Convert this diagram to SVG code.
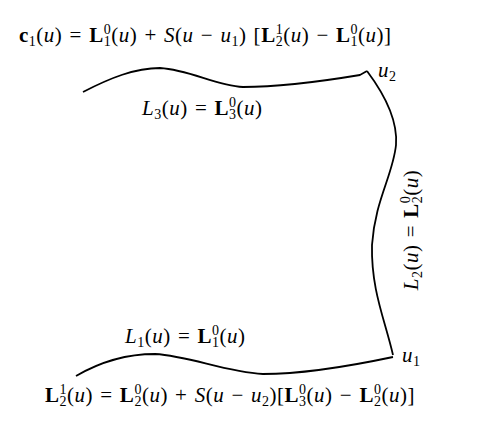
<svg xmlns="http://www.w3.org/2000/svg" width="500" height="433" viewBox="0 0 500 433">
<style>
text{font-family:"Liberation Serif","Times New Roman",serif;font-size:21px;letter-spacing:0.5px;word-spacing:1.5px;fill:#000}
.i{font-style:italic}
.b{font-weight:bold}
.s{font-size:14px}
.c{fill:none;stroke:#000;stroke-width:1.8;stroke-linejoin:miter}
</style>
<rect width="500" height="433" fill="#fff"/>
<g id="curves">
<path class="c" d="M83,92 C110,78 135,68 160,68 C190,70 215,85 243,87 C285,87 330,80 360,75 L367,71"/>
<path class="c" d="M367,71 C385,95 398,120 396,145 C393,175 375,200 372,245 C371,290 385,320 393,355"/>
<path class="c" d="M76,376 C100,362 125,354 155,354 C190,356 225,372 263,374 C310,374 360,364 393,357"/>
</g>
<g id="top-formula">
<text x="19" y="42"><tspan class="b">c</tspan><tspan class="s" dy="4">1</tspan><tspan dy="-4">(</tspan><tspan class="i">u</tspan>) = <tspan class="b">L</tspan><tspan class="s" dy="4">1</tspan><tspan class="s" dx="-7.5" dy="-12">0</tspan><tspan dy="8">(</tspan><tspan class="i">u</tspan>) + <tspan class="i">S</tspan>(<tspan class="i">u</tspan> − <tspan class="i">u</tspan><tspan class="s" dy="4">1</tspan><tspan dy="-4">) [</tspan><tspan class="b">L</tspan><tspan class="s" dy="4">2</tspan><tspan class="s" dx="-7.5" dy="-12">1</tspan><tspan dy="8">(</tspan><tspan class="i">u</tspan>) − <tspan class="b">L</tspan><tspan class="s" dy="4">1</tspan><tspan class="s" dx="-7.5" dy="-12">0</tspan><tspan dy="8">(</tspan><tspan class="i">u</tspan>)]</text>
</g>
<g id="label-L3">
<text x="142" y="115"><tspan class="i">L</tspan><tspan class="s" dy="4">3</tspan><tspan dy="-4">(</tspan><tspan class="i">u</tspan>) = <tspan class="b">L</tspan><tspan class="s" dy="4">3</tspan><tspan class="s" dx="-7.5" dy="-12">0</tspan><tspan dy="8">(</tspan><tspan class="i">u</tspan>)</text>
</g>
<g id="label-u2">
<text x="378" y="77"><tspan class="i">u</tspan><tspan class="s" dy="4">2</tspan></text>
</g>
<g id="label-L2">
<text transform="translate(418,230) rotate(-90)" text-anchor="middle"><tspan class="i">L</tspan><tspan class="s" dy="4">2</tspan><tspan dy="-4">(</tspan><tspan class="i">u</tspan>) = <tspan class="b">L</tspan><tspan class="s" dy="4">2</tspan><tspan class="s" dx="-7.5" dy="-12">0</tspan><tspan dy="8">(</tspan><tspan class="i">u</tspan>)</text>
</g>
<g id="label-L1">
<text x="125" y="343"><tspan class="i">L</tspan><tspan class="s" dy="4">1</tspan><tspan dy="-4">(</tspan><tspan class="i">u</tspan>) = <tspan class="b">L</tspan><tspan class="s" dy="4">1</tspan><tspan class="s" dx="-7.5" dy="-12">0</tspan><tspan dy="8">(</tspan><tspan class="i">u</tspan>)</text>
</g>
<g id="label-u1">
<text x="402" y="362"><tspan class="i">u</tspan><tspan class="s" dy="4">1</tspan></text>
</g>
<g id="bottom-formula">
<text x="45" y="402"><tspan class="b">L</tspan><tspan class="s" dy="4">2</tspan><tspan class="s" dx="-7.5" dy="-12">1</tspan><tspan dy="8">(</tspan><tspan class="i">u</tspan>) = <tspan class="b">L</tspan><tspan class="s" dy="4">2</tspan><tspan class="s" dx="-7.5" dy="-12">0</tspan><tspan dy="8">(</tspan><tspan class="i">u</tspan>) + <tspan class="i">S</tspan>(<tspan class="i">u</tspan> − <tspan class="i">u</tspan><tspan class="s" dy="4">2</tspan><tspan dy="-4">)[</tspan><tspan class="b">L</tspan><tspan class="s" dy="4">3</tspan><tspan class="s" dx="-7.5" dy="-12">0</tspan><tspan dy="8">(</tspan><tspan class="i">u</tspan>) − <tspan class="b">L</tspan><tspan class="s" dy="4">2</tspan><tspan class="s" dx="-7.5" dy="-12">0</tspan><tspan dy="8">(</tspan><tspan class="i">u</tspan>)]</text>
</g>
</svg>
